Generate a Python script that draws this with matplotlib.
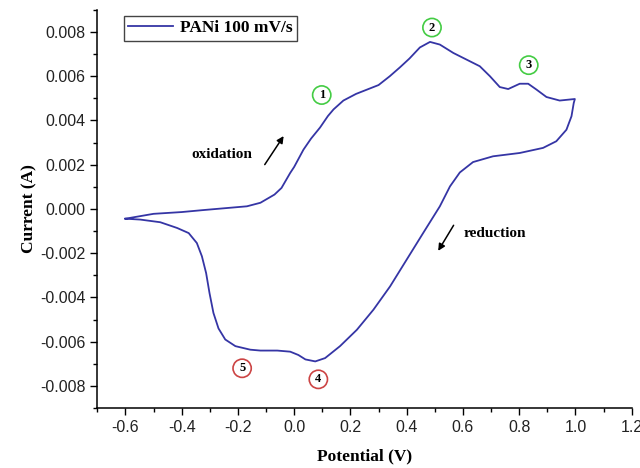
import matplotlib
matplotlib.use("Agg")
import matplotlib.pyplot as plt
from matplotlib.ticker import MultipleLocator, FormatStrFormatter

# forward scan (oxidation branch), -0.6 V -> 1.0 V
forward_potential = [-0.600, -0.550, -0.500, -0.400, -0.323, -0.250, -0.168, -0.120, -0.070,
                     -0.045, -0.014, 0.0, 0.033, 0.060, 0.092, 0.120, 0.140, 0.175, 0.220,
                     0.260, 0.300, 0.340, 0.376, 0.410, 0.447, 0.483, 0.518, 0.566, 0.613,
                     0.660, 0.696, 0.731, 0.761, 0.802, 0.832, 0.861, 0.897, 0.944, 0.998]
forward_current = [-0.00044, -0.00033, -0.00022, -0.00014, -0.00005, 0.00003, 0.00012,
                   0.00028, 0.00065, 0.00095, 0.00163, 0.0019, 0.00268, 0.00318, 0.00368,
                   0.0042, 0.0045, 0.0049, 0.0052, 0.0054, 0.0056, 0.0060, 0.0064, 0.0068,
                   0.0073, 0.00755, 0.00743, 0.00705, 0.00675, 0.00645, 0.0060, 0.00551,
                   0.00542, 0.00566, 0.00566, 0.0054, 0.00506, 0.0049, 0.00497]

# reverse scan (reduction branch), 1.0 V -> -0.6 V
reverse_potential = [0.998, 0.994, 0.986, 0.968, 0.932, 0.885, 0.802, 0.707, 0.636, 0.589,
                     0.554, 0.518, 0.459, 0.400, 0.341, 0.282, 0.223, 0.163, 0.110, 0.075,
                     0.040, 0.015, -0.014, -0.060, -0.120, -0.156, -0.209, -0.245, -0.269,
                     -0.287, -0.301, -0.313, -0.328, -0.346, -0.375, -0.416, -0.476, -0.547,
                     -0.600]
reverse_current = [0.00497, 0.00479, 0.00419, 0.00358, 0.00306, 0.00276, 0.00253, 0.00238,
                   0.00212, 0.00165, 0.00102, 0.00012, -0.00108, -0.00229, -0.0035, -0.00455,
                   -0.00546, -0.0062, -0.00674, -0.00689, -0.0068, -0.0066, -0.00645, -0.0064,
                   -0.0064, -0.00636, -0.0062, -0.0059, -0.0054, -0.0047, -0.0038, -0.0029,
                   -0.00214, -0.00154, -0.00109, -0.00086, -0.0006, -0.00048, -0.00044]

# peak markers
peak_labels = ["1", "2", "3", "4", "5"]
peak_potential = [0.098, 0.49, 0.834, 0.086, -0.185]
peak_current = [0.00515, 0.0082, 0.0065, -0.0077, -0.0072]
peak_colors = ["#44cc44", "#44cc44", "#44cc44", "#cc4444", "#cc4444"]

line_color = "#3535a5"
serif = ["Liberation Serif", "DejaVu Serif"]
sans = ["Liberation Sans", "DejaVu Sans"]

fig = plt.figure(figsize=(6.4, 4.68), dpi=100)
ax = fig.add_axes([0.152, 0.128, 0.835, 0.851])

potential = forward_potential + reverse_potential[1:]
current = forward_current + reverse_current[1:]
ax.plot(potential, current, color=line_color, lw=1.3, label="PANi 100 mV/s")

ax.set_xlim(-0.7, 1.2)
ax.set_ylim(-0.009, 0.009)
ax.spines["top"].set_visible(False)
ax.spines["right"].set_visible(False)
ax.xaxis.set_major_locator(MultipleLocator(0.2))
ax.xaxis.set_minor_locator(MultipleLocator(0.1))
ax.yaxis.set_major_locator(MultipleLocator(0.002))
ax.yaxis.set_minor_locator(MultipleLocator(0.001))
ax.xaxis.set_major_formatter(FormatStrFormatter("%.1f"))
ax.yaxis.set_major_formatter(FormatStrFormatter("%.3f"))
ax.tick_params(which="major", direction="out", length=5, width=1, labelsize=11.5,
               labelcolor="#222222")
ax.tick_params(which="minor", direction="out", length=3, width=1)
for lab in ax.get_xticklabels() + ax.get_yticklabels():
    lab.set_family(sans)
for sp in ["left", "bottom"]:
    ax.spines[sp].set_linewidth(1.1)

ax.set_xlabel("Potential (V)", family=serif, fontweight="bold", fontsize=12.5, labelpad=10)
ax.set_ylabel("Current (A)", family=serif, fontweight="bold", fontsize=12.5, labelpad=2)

leg = ax.legend(loc="upper left", bbox_to_anchor=(0.05, 0.985), borderaxespad=0,
                prop={"family": serif, "weight": "bold", "size": 12.5},
                fancybox=False, edgecolor="#444444", handlelength=2.6,
                handletextpad=0.4, borderpad=0.25, framealpha=1)
leg.get_frame().set_linewidth(1.0)

for lab, x, y, c in zip(peak_labels, peak_potential, peak_current, peak_colors):
    ax.text(x, y, lab, ha="center", va="center", family=serif, fontweight="bold",
            fontsize=9, bbox=dict(boxstyle="circle,pad=0.25", fc="white", ec=c, lw=1.2))

ax.text(-0.257, 0.00245, "oxidation", ha="center", va="center", family=serif,
        fontweight="bold", fontsize=11)
ax.annotate("", xy=(-0.032, 0.0034), xytext=(-0.11, 0.0019),
            arrowprops=dict(arrowstyle="-|>", color="black", lw=1.1, mutation_scale=10))
ax.text(0.714, -0.0011, "reduction", ha="center", va="center", family=serif,
        fontweight="bold", fontsize=11)
ax.annotate("", xy=(0.507, -0.0020), xytext=(0.572, -0.00063),
            arrowprops=dict(arrowstyle="-|>", color="black", lw=1.1, mutation_scale=10))

fig.savefig("out.png", dpi=100)
